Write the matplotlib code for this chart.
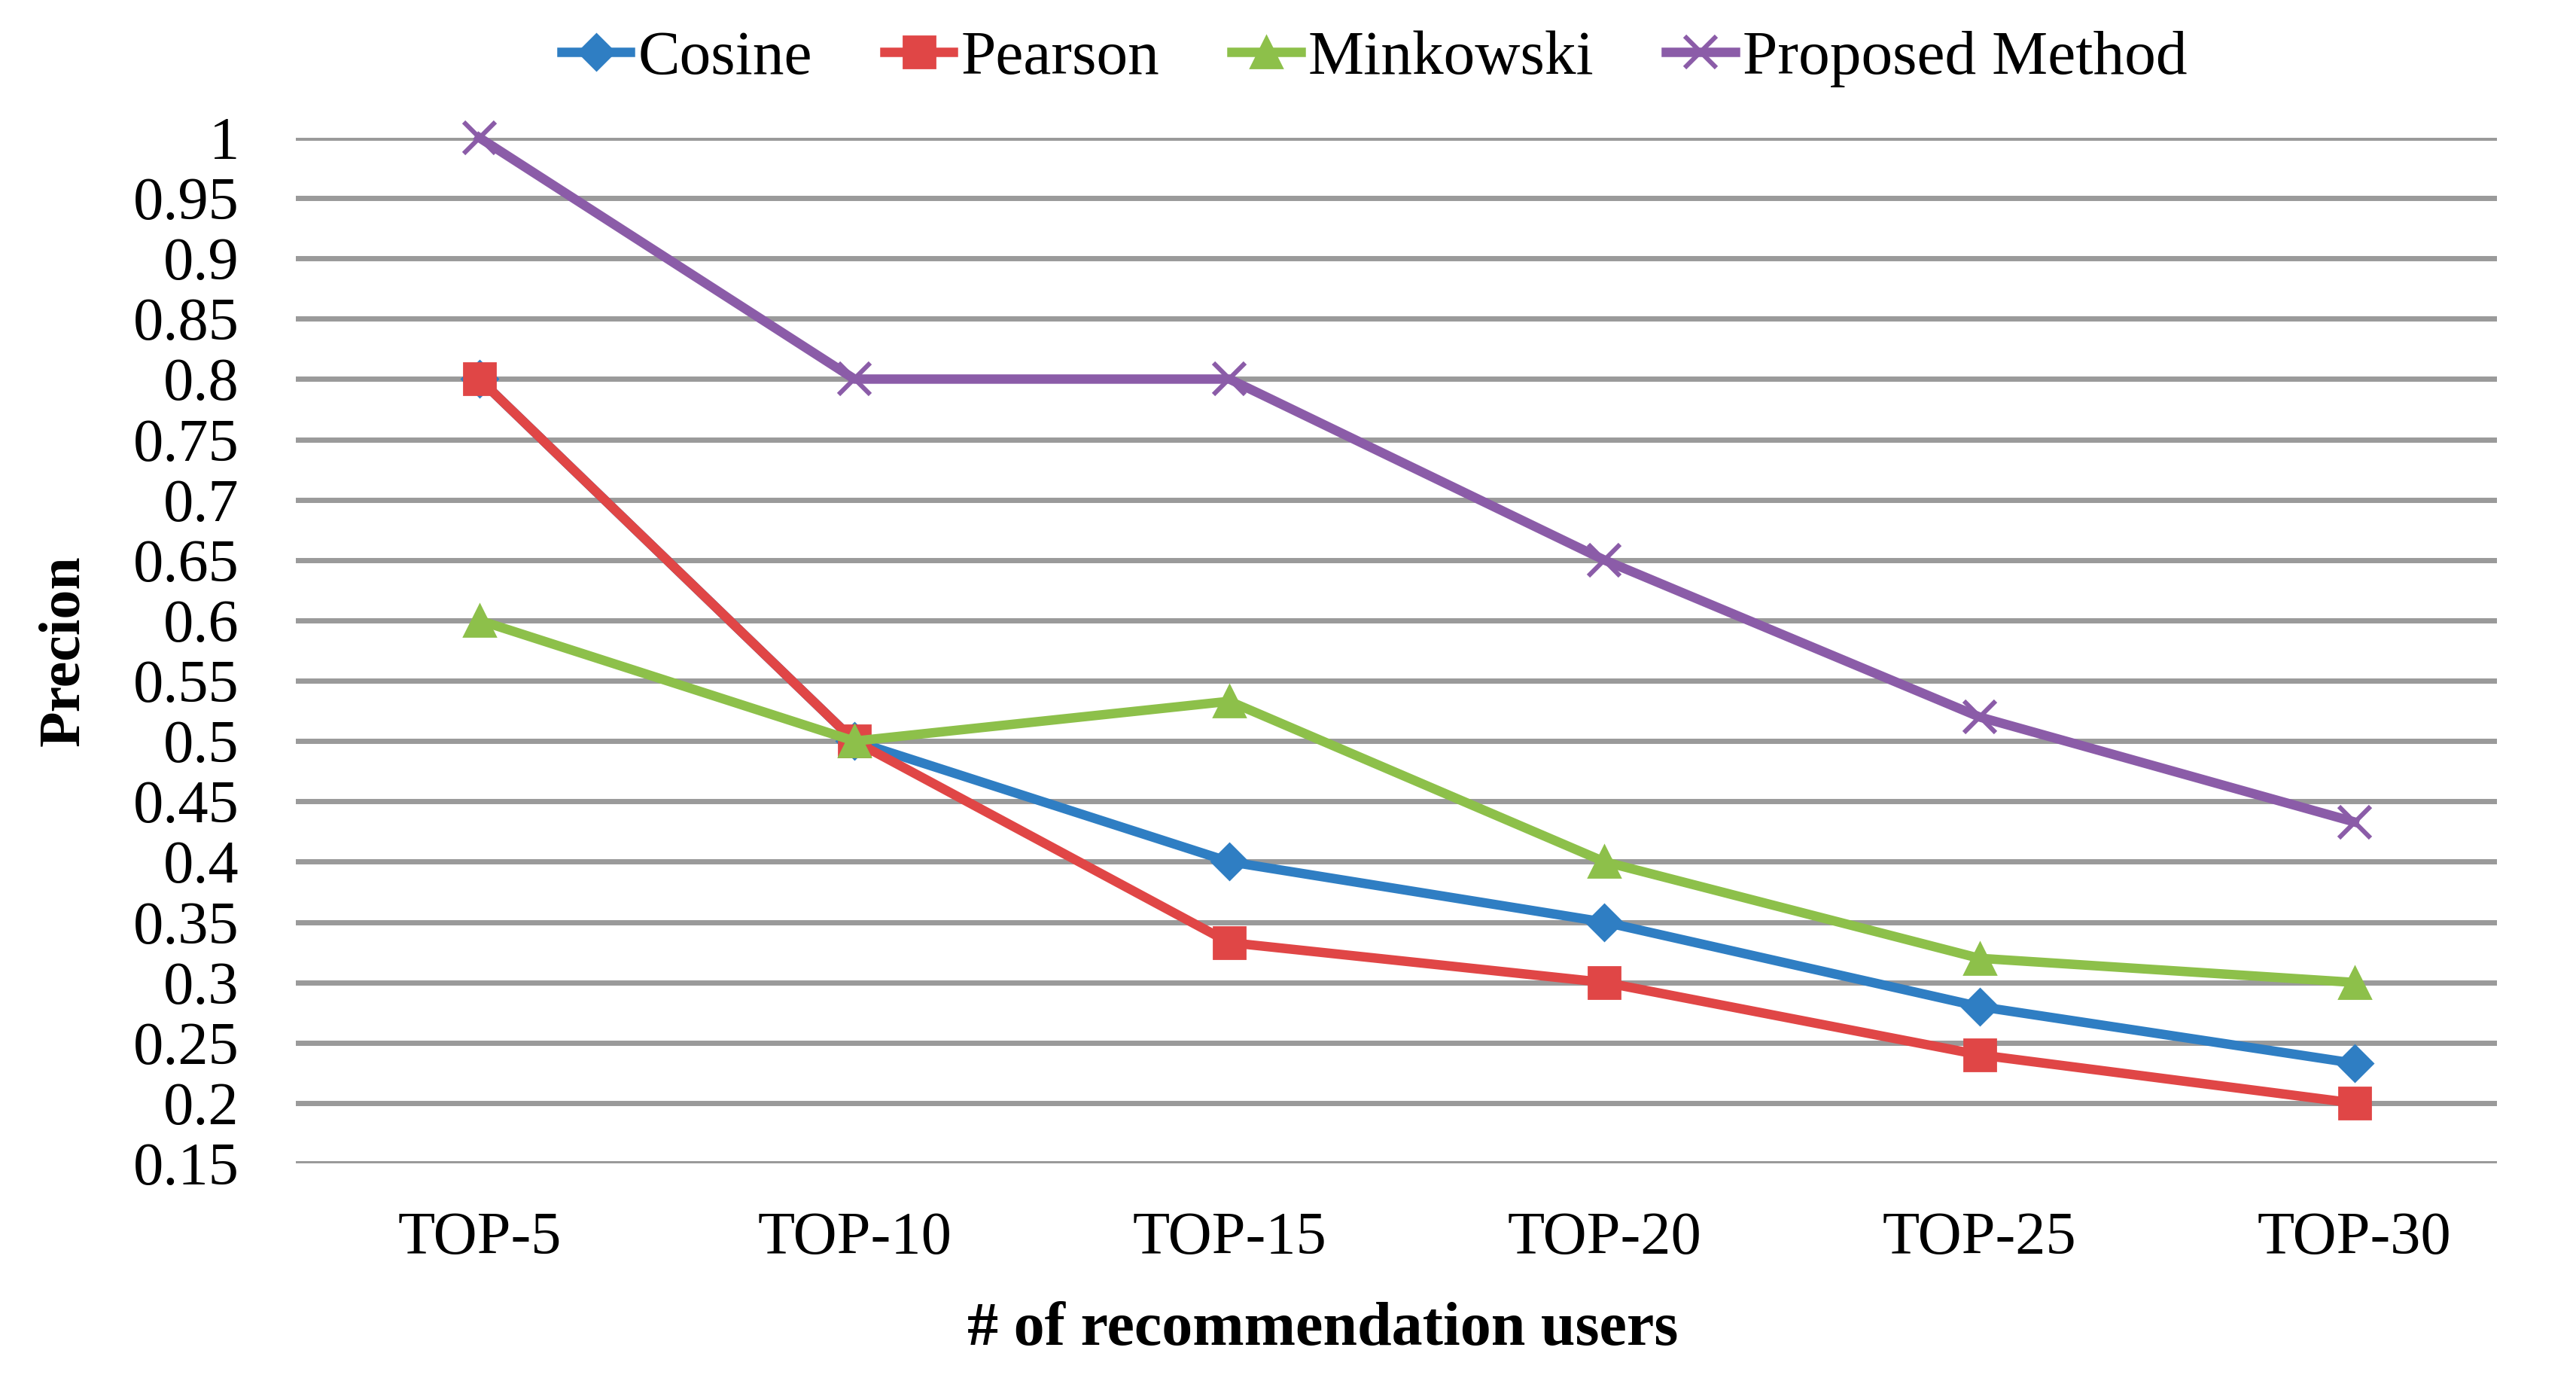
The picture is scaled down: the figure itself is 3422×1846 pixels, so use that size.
import numpy as np
import matplotlib
matplotlib.use('Agg')
import matplotlib.pyplot as plt

categories = ['TOP-5', 'TOP-10', 'TOP-15', 'TOP-20', 'TOP-25', 'TOP-30']
cosine = [0.8, 0.5, 0.4, 0.35, 0.28, 0.233]
pearson = [0.8, 0.5, 0.333, 0.3, 0.24, 0.2]
minkowski = [0.6, 0.5, 0.533, 0.4, 0.32, 0.3]
proposed = [1.0, 0.8, 0.8, 0.65, 0.52, 0.433]
yticks = np.arange(0.15, 1.0001, 0.05)

plt.rcParams['font.family'] = ['Liberation Serif', 'DejaVu Serif']

fig = plt.figure(figsize=(17.11, 9.23), dpi=200)
ax = fig.add_axes([0.1148, 0.163, 0.8545, 0.7379])

x = np.arange(len(categories))
ax.plot(x, cosine, color='#2F7EC3', lw=4.5, marker='D', ms=12, label='Cosine', zorder=3, clip_on=False)
ax.plot(x, pearson, color='#E04646', lw=4.5, marker='s', ms=15, label='Pearson', zorder=4, clip_on=False)
ax.plot(x, minkowski, color='#8DC04A', lw=4.5, marker='^', ms=15, label='Minkowski', zorder=5, clip_on=False)
ax.plot(x, proposed, color='#8B5CA8', lw=4.5, marker='x', ms=15, mew=2.2, label='Proposed Method',
        zorder=6, clip_on=False)

ax.set_xlim(-0.49, 5.38)
ax.set_ylim(0.15, 1.0)
ax.set_yticks(yticks)
ax.set_yticklabels(['%g' % round(v, 2) for v in yticks])
ax.set_xticks(x)
ax.set_xticklabels(categories)
ax.tick_params(axis='both', length=0, labelsize=29, colors='black')
ax.tick_params(axis='y', pad=27)
ax.tick_params(axis='x', pad=23)
ax.grid(axis='y', color='#9A9A9A', lw=2.5, zorder=0)
ax.set_axisbelow(True)
for s in ax.spines.values():
    s.set_visible(False)

ax.set_xlabel('# of recommendation users', fontsize=29.5, fontweight='bold')
ax.xaxis.set_label_coords(0.4665, -0.135)
ax.set_ylabel('Precion', fontsize=28, fontweight='bold', labelpad=20)

ax.legend(loc='lower center', bbox_to_anchor=(0.49, 1.0), ncol=4, frameon=False,
          fontsize=30, handlelength=1.1, handletextpad=0.12, columnspacing=1.15,
          borderaxespad=0.4)

fig.savefig('out.png', dpi=200)
